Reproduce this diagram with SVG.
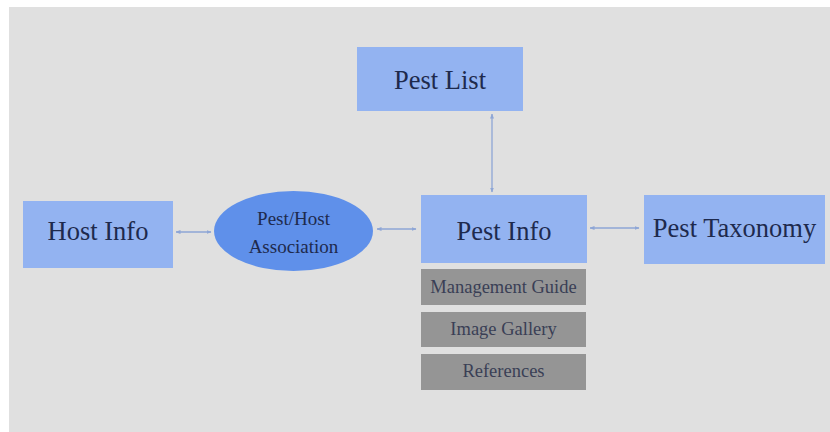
<svg xmlns="http://www.w3.org/2000/svg" width="830" height="432" viewBox="0 0 830 432">
<style>
.box{fill:#93b3f1}
.sub{fill:#959595}
.t{font-family:"Liberation Serif","Times New Roman",serif;fill:#1e2a4d;text-anchor:middle}
.big{font-size:26.5px}
.mid{font-size:19px}
.st{font-family:"Liberation Serif","Times New Roman",serif;fill:#3a3f55;text-anchor:middle;font-size:18.5px}
.c{stroke:#8ea6d6;stroke-width:1.3;fill:none;marker-start:url(#ah);marker-end:url(#ah)}
</style>
<defs>
<marker id="ah" viewBox="0 0 10 10" refX="9" refY="5" markerWidth="5" markerHeight="5" orient="auto-start-reverse" markerUnits="userSpaceOnUse">
<path d="M0,1 L10,5 L0,9 z" fill="#8ea6d6"/>
</marker>
</defs>
<rect x="0" y="0" width="830" height="432" fill="#ffffff"/>
<rect x="9" y="7" width="821" height="425" fill="#e0e0e0"/>
<g id="connectors">
<line class="c" x1="492" y1="114" x2="492" y2="192"/>
<line class="c" x1="176" y1="232" x2="211" y2="232"/>
<line class="c" x1="377" y1="229" x2="416" y2="229"/>
<line class="c" x1="590" y1="228" x2="639" y2="228"/>
</g>
<g id="pest-list">
<rect class="box" x="357" y="47" width="166" height="64"/>
<text class="t big" x="440" y="89">Pest List</text>
</g>
<g id="host-info">
<rect class="box" x="23" y="201" width="150" height="67"/>
<text class="t big" x="98" y="240">Host Info</text>
</g>
<g id="pest-host-association">
<ellipse cx="293.5" cy="231" rx="79.5" ry="40" fill="#5f90ea"/>
<text class="t mid" x="293.5" y="225">Pest/Host</text>
<text class="t mid" x="293.5" y="253">Association</text>
</g>
<g id="pest-info">
<rect class="box" x="421" y="195" width="166" height="68"/>
<text class="t big" x="504" y="240">Pest Info</text>
</g>
<g id="pest-taxonomy">
<rect class="box" x="644" y="195" width="181" height="69"/>
<text class="t big" x="734.5" y="237">Pest Taxonomy</text>
</g>
<g id="management-guide">
<rect class="sub" x="421" y="269" width="165" height="36"/>
<text class="st" x="503.5" y="293">Management Guide</text>
</g>
<g id="image-gallery">
<rect class="sub" x="421" y="312" width="165" height="35"/>
<text class="st" x="503.5" y="335">Image Gallery</text>
</g>
<g id="references">
<rect class="sub" x="421" y="354" width="165" height="36"/>
<text class="st" x="503.5" y="377">References</text>
</g>
</svg>
